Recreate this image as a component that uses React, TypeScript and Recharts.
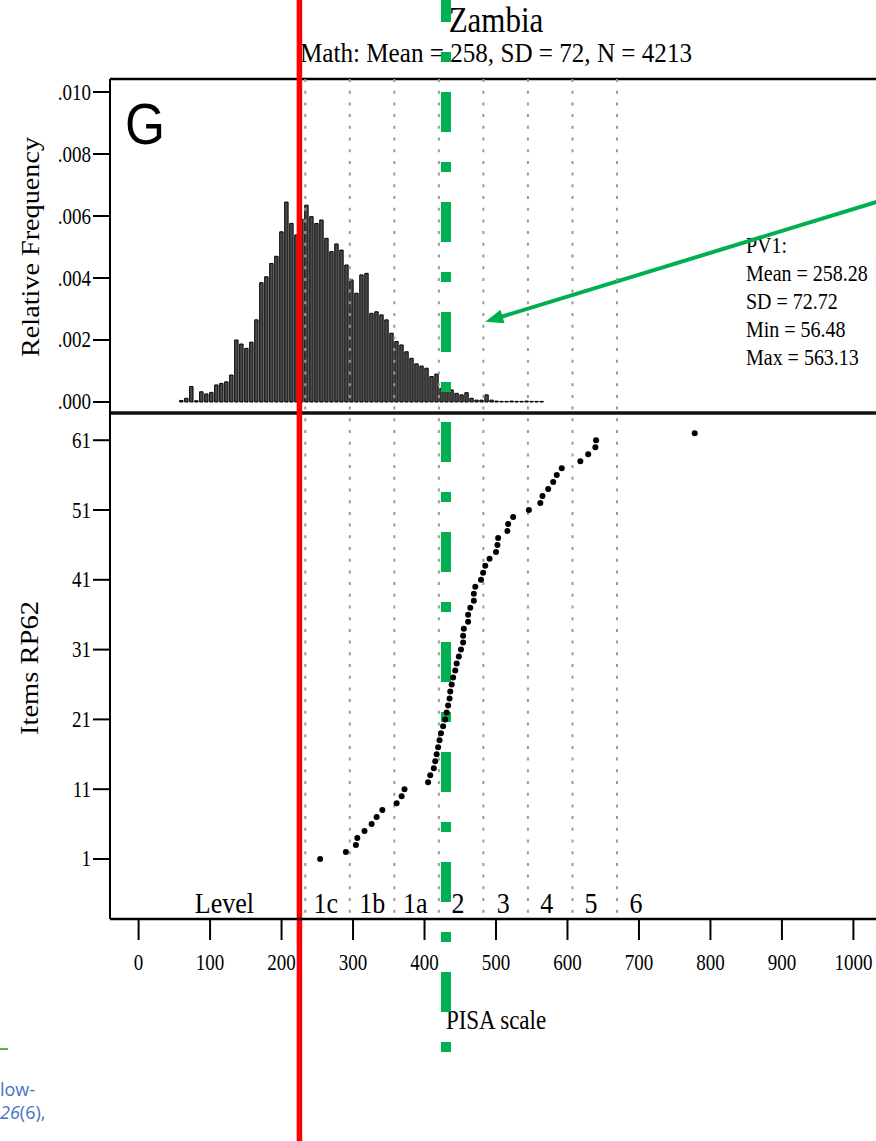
import React from "react";
import { ComposedChart, Bar, Scatter, XAxis, YAxis, ReferenceLine } from "recharts";

// histogram of PV1 scores, bins 7 points wide
const binCenters = [
  59.5, 66.5, 73.5, 80.5, 87.5, 94.5, 101.5, 108.5, 115.5, 122.5, 129.5, 136.5, 143.5, 150.5,
  157.5, 164.5, 171.5, 178.5, 185.5, 192.5, 199.5, 206.5, 213.5, 220.5, 227.5, 234.5, 241.5,
  248.5, 255.5, 262.5, 269.5, 276.5, 283.5, 290.5, 297.5, 304.5, 311.5, 318.5, 325.5, 332.5,
  339.5, 346.5, 353.5, 360.5, 367.5, 374.5, 381.5, 388.5, 395.5, 402.5, 409.5, 416.5, 423.5,
  430.5, 437.5, 444.5, 451.5, 458.5, 465.5, 472.5, 479.5, 486.5, 493.5, 500.5, 507.5, 514.5,
  521.5, 528.5, 535.5, 542.5, 549.5, 556.5, 563.5,
];
const relFreq = [
  0.00005, 0.00012, 0.0005, 0.00004, 0.00033, 0.00026, 0.00031, 0.00055, 0.0006, 0.00065,
  0.00087, 0.002, 0.00187, 0.00173, 0.00193, 0.00265, 0.00385, 0.00404, 0.00447, 0.0047,
  0.00549, 0.00645, 0.00576, 0.00539, 0.0059, 0.00635, 0.00598, 0.00576, 0.00587, 0.00528,
  0.00485, 0.0051, 0.0049, 0.00442, 0.00394, 0.00351, 0.0041, 0.00415, 0.00286, 0.00291,
  0.00281, 0.00265, 0.00222, 0.00195, 0.00184, 0.00162, 0.00141, 0.00123, 0.00116, 0.00109,
  0.00082, 0.0009, 0.00044, 0.00044, 0.00039, 0.00028, 0.00023, 0.0003, 0.00012, 0.00006,
  0.00006, 0.00023, 0.00006, 0.00003, 0.00002, 0.00002, 0.00003, 0.00002, 0.00002, 0.00003,
  0.00002, 0.00002, 0.00002,
];

// items at RP62, sorted
const itemRank = [
  1, 2, 3, 4, 5, 6, 7, 8, 9, 10, 11, 12, 13, 14, 15, 16, 17, 18, 19, 20, 21, 22, 23, 24, 25, 26,
  27, 28, 29, 30, 31, 32, 33, 34, 35, 36, 37, 38, 39, 40, 41, 42, 43, 44, 45, 46, 47, 48, 49, 50,
  51, 52, 53, 54, 55, 56, 57, 58, 59, 60, 61, 62,
];
const itemScore = [
  254, 290, 304, 306, 316, 326, 333, 341, 361, 368, 372, 405, 408, 413, 415, 417, 419, 421, 423,
  426, 429, 431, 433, 435, 436, 438, 440, 443, 445, 448, 451, 454, 454, 455, 461, 461, 464, 469,
  469, 471, 479, 482, 485, 491, 500, 502, 503, 516, 517, 524, 546, 562, 565, 573, 580, 585, 592,
  618, 629, 639, 640, 778,
];

const levelCuts = [233.17, 295.47, 357.77, 420.07, 482.38, 544.68, 606.99, 669.3];
const levelNames = ["Level", "1c", "1b", "1a", "2", "3", "4", "5", "6"];
const levelLabelAt = [120, 262, 327, 387, 447, 510, 571, 633, 696];

const freqDomain = [-0.000355, 0.01042];
const rankDomain = [-7.6, 64.9];
const scoreDomain = [-40, 1040];
const freqTicks = [0, 0.002, 0.004, 0.006, 0.008, 0.01];
const rankTicks = [1, 11, 21, 31, 41, 51, 61];
const scoreTicks = [0, 100, 200, 300, 400, 500, 600, 700, 800, 900, 1000];

const pv1Stats = ["PV1:", "Mean = 258.28", "SD = 72.72", "Min = 56.48", "Max = 563.13"];

const redMark = 225;
const greenMark = 430;
const arrowFrom = { x: 1066, y: 0.00669 };
const arrowTo = { x: 485, y: 0.00259 };

const histData = binCenters.map((x, i) => ({ x, freq: relFreq[i] }));
const itemData = itemScore.map((x, i) => ({ x, y: itemRank[i] }));

const W = 886;
const H = 1141;
const TOP_Y = 79;
const MID_Y = 413;
const BOTTOM_Y = 919;
const STRETCH = 1.16; // the source image is taller than it is wide
const SERIF = '"Liberation Serif", "Times New Roman", serif';
const GREEN = "#00b050";

function Tall({ x, y, size, anchor = "start", children, ...rest }: any) {
  return (
    <text
      transform={`translate(${x},${y}) scale(1,${STRETCH})`}
      textAnchor={anchor}
      fontFamily={SERIF}
      fontSize={size}
      fill="#000"
      {...rest}
    >
      {children}
    </text>
  );
}

const fmtFreq = (v: number) => v.toFixed(3).replace(/^0/, "");

function YTick(p: any) {
  const label = p.fmt ? p.fmt(p.payload.value) : String(p.payload.value);
  return (
    <Tall x={p.x} y={p.y} size={19} anchor="end" dy="0.34em">
      {label}
    </Tall>
  );
}

function XTick(p: any) {
  return (
    <Tall x={p.x} y={p.y} size={19} anchor="middle" dy="0.7em">
      {p.payload.value}
    </Tall>
  );
}

function ArrowShape(p: any) {
  const { x1, y1, x2, y2 } = p;
  const dx = x2 - x1;
  const dy = y2 - y1;
  const len = Math.hypot(dx, dy) || 1;
  const ux = dx / len;
  const uy = dy / len;
  const bx = x2 - ux * 18;
  const by = y2 - uy * 18;
  return (
    <g>
      <line x1={x1} y1={y1} x2={bx + ux * 2} y2={by + uy * 2} stroke={GREEN} strokeWidth={4} />
      <polygon
        points={`${x2},${y2} ${bx - uy * 7},${by + ux * 7} ${bx + uy * 7},${by - ux * 7}`}
        fill={GREEN}
      />
    </g>
  );
}

function TopPanel() {
  return (
    <ComposedChart
      width={W}
      height={H}
      data={histData}
      margin={{ top: TOP_Y, right: 4, bottom: H - MID_Y, left: 0 }}
    >
      <XAxis
        type="number"
        dataKey="x"
        domain={scoreDomain}
        allowDataOverflow
        tick={false}
        tickLine={false}
        axisLine={false}
        height={0}
      />
      <YAxis
        type="number"
        domain={freqDomain}
        allowDataOverflow
        ticks={freqTicks}
        width={110}
        tickSize={17}
        tickMargin={2}
        tick={<YTick fmt={fmtFreq} />}
        axisLine={{ stroke: "#000", strokeWidth: 2 }}
        tickLine={{ stroke: "#000", strokeWidth: 2 }}
      />
      <Bar
        dataKey="freq"
        barSize={3.4}
        fill="#4a4a4a"
        stroke="#000"
        strokeWidth={1}
        isAnimationActive={false}
      />
      <ReferenceLine y={freqDomain[1]} stroke="#000" strokeWidth={2.5} ifOverflow="visible" />
      <ReferenceLine y={freqDomain[0]} stroke="#111" strokeWidth={3.5} ifOverflow="visible" />
      <ReferenceLine segment={[arrowFrom, arrowTo]} ifOverflow="visible" shape={ArrowShape} />
    </ComposedChart>
  );
}

function BottomPanel() {
  return (
    <ComposedChart width={W} height={H} margin={{ top: MID_Y, right: 4, bottom: 0, left: 0 }}>
      <XAxis
        type="number"
        dataKey="x"
        domain={scoreDomain}
        allowDataOverflow
        ticks={scoreTicks}
        height={H - BOTTOM_Y}
        tickSize={21}
        tickMargin={15}
        tick={<XTick />}
        axisLine={{ stroke: "#000", strokeWidth: 2.5 }}
        tickLine={{ stroke: "#000", strokeWidth: 2 }}
      />
      <YAxis
        type="number"
        dataKey="y"
        domain={rankDomain}
        allowDataOverflow
        ticks={rankTicks}
        width={110}
        tickSize={17}
        tickMargin={2}
        tick={<YTick />}
        axisLine={{ stroke: "#000", strokeWidth: 2 }}
        tickLine={{ stroke: "#000", strokeWidth: 2 }}
      />
      {levelCuts.map((c) => (
        <ReferenceLine
          key={c}
          x={c}
          shape={(p: any) => (
            <line
              x1={p.x1}
              x2={p.x1}
              y1={TOP_Y}
              y2={BOTTOM_Y}
              stroke="#9a9a9a"
              strokeWidth={2}
              strokeDasharray="3 8.7"
            />
          )}
        />
      ))}
      {levelNames.map((name, i) => (
        <ReferenceLine
          key={name}
          x={levelLabelAt[i]}
          stroke="none"
          label={{
            value: name,
            content: (lp: any) => (
              <Tall
                x={lp.viewBox.x}
                y={lp.viewBox.y + lp.viewBox.height - 6}
                size={26}
                anchor="middle"
              >
                {name}
              </Tall>
            ),
          }}
        />
      ))}
      <Scatter
        data={itemData}
        dataKey="y"
        isAnimationActive={false}
        shape={(p: any) => <circle cx={p.cx} cy={p.cy} r={3} fill="#000" />}
      />
      <ReferenceLine
        x={redMark}
        shape={(p: any) => (
          <line x1={p.x1} x2={p.x1} y1={0} y2={H} stroke="#ff0000" strokeWidth={5.5} />
        )}
      />
      <ReferenceLine
        x={greenMark}
        shape={(p: any) => (
          <line
            x1={p.x1}
            x2={p.x1}
            y1={0}
            y2={1052}
            stroke={GREEN}
            strokeWidth={10}
            strokeDasharray="40 30 10 30"
            strokeDashoffset={18}
          />
        )}
      />
    </ComposedChart>
  );
}

export default function App() {
  return (
    <div
      style={{
        position: "absolute",
        left: 0,
        top: 0,
        width: 876,
        height: 1141,
        overflow: "hidden",
        background: "#fff",
      }}
    >
      <svg width={876} height={1141} style={{ position: "absolute", left: 0, top: 0 }}>
        <Tall x={496} y={32} size={31} anchor="middle">
          Zambia
        </Tall>
        <Tall x={496} y={62} size={23} anchor="middle" textLength={392} lengthAdjust="spacingAndGlyphs">
          Math: Mean = 258, SD = 72, N = 4213
        </Tall>
        <text
          transform="translate(39,247) rotate(-90)"
          textAnchor="middle"
          fontFamily={SERIF}
          fontSize={25}
          textLength={220}
          lengthAdjust="spacingAndGlyphs"
        >
          Relative Frequency
        </text>
        <text
          transform="translate(38,668) rotate(-90)"
          textAnchor="middle"
          fontFamily={SERIF}
          fontSize={25}
          textLength={134}
          lengthAdjust="spacingAndGlyphs"
        >
          Items RP62
        </text>
        {pv1Stats.map((s, i) => (
          <Tall key={s} x={746} y={253 + i * 28} size={20}>
            {s}
          </Tall>
        ))}
        <Tall x={496} y={1029} size={23} anchor="middle">
          PISA scale
        </Tall>
        <text
          x={125}
          y={144}
          fontFamily='"Liberation Sans", Arial, sans-serif'
          fontSize={58}
          textLength={40}
          lengthAdjust="spacingAndGlyphs"
        >
          G
        </text>
        <line x1={0} x2={8} y1={1049} y2={1049} stroke="#70ad47" strokeWidth={2} />
        <g fontFamily='"Open Sans", "Liberation Sans", sans-serif' fontSize={18} fill="#4472c4">
          <text x={0} y={1096}>low-</text>
          <text x={0} y={1119}>
            <tspan fontStyle="italic">26</tspan>(6),
          </text>
        </g>
      </svg>
      <div style={{ position: "absolute", left: 0, top: 0 }}>
        <TopPanel />
      </div>
      <div style={{ position: "absolute", left: 0, top: 0 }}>
        <BottomPanel />
      </div>
    </div>
  );
}
